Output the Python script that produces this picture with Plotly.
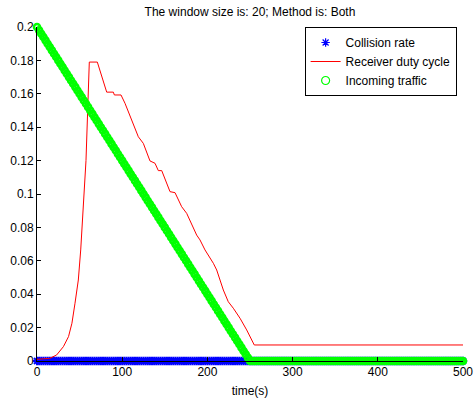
import plotly.graph_objects as go

# time grid (s)
time = [i * 2.5 for i in range(201)]

# Collision rate (zero throughout)
collision_rate = [0.0] * 201

# Incoming traffic
incoming_traffic = [
    0.200, 0.198, 0.196, 0.194, 0.192, 0.190, 0.188, 0.186, 0.184, 0.182,
    0.180, 0.178, 0.176, 0.174, 0.172, 0.170, 0.168, 0.166, 0.164, 0.162,
    0.160, 0.158, 0.156, 0.154, 0.152, 0.150, 0.148, 0.146, 0.144, 0.142,
    0.140, 0.138, 0.136, 0.134, 0.132, 0.130, 0.128, 0.126, 0.124, 0.122,
    0.120, 0.118, 0.116, 0.114, 0.112, 0.110, 0.108, 0.106, 0.104, 0.102,
    0.100, 0.098, 0.096, 0.094, 0.092, 0.090, 0.088, 0.086, 0.084, 0.082,
    0.080, 0.078, 0.076, 0.074, 0.072, 0.070, 0.068, 0.066, 0.064, 0.062,
    0.060, 0.058, 0.056, 0.054, 0.052, 0.050, 0.048, 0.046, 0.044, 0.042,
    0.040, 0.038, 0.036, 0.034, 0.032, 0.030, 0.028, 0.026, 0.024, 0.022,
    0.020, 0.018, 0.016, 0.014, 0.012, 0.010, 0.008, 0.006, 0.004, 0.002,
    0.000,
] + [0.0] * 100

# Receiver duty cycle
duty_time = [0, 10, 15, 23, 31, 37, 41, 44.6, 48.5, 51.3, 54.4, 56.3, 57.5,
             61.4, 70.8, 81.8, 89.6, 90.8, 98.6, 103.3, 109.2, 113, 118.9,
             124.8, 130.6, 132.6, 138.5, 142.4, 146.4, 156.1, 162, 169.8,
             175.7, 183.5, 187.4, 191.3, 197.2, 207, 210.9, 218.7, 224.5,
             230.4, 238.3, 246.1, 255, 500]
duty_cycle = [0.0010, 0.0012, 0.0016, 0.0036, 0.0086, 0.0146, 0.0226, 0.0346,
              0.0485, 0.0665, 0.0944, 0.1144, 0.1200, 0.1790, 0.1790, 0.1610,
              0.1610, 0.1593, 0.1593, 0.1543, 0.1463, 0.1413, 0.1343, 0.1303,
              0.1223, 0.1198, 0.1184, 0.1140, 0.1140, 0.1014, 0.1008, 0.0924,
              0.0884, 0.0804, 0.0754, 0.0725, 0.0665, 0.0585, 0.0545, 0.0425,
              0.0355, 0.0316, 0.0256, 0.0186, 0.0096, 0.0096]

FONT = "Liberation Sans, Arial, Helvetica, sans-serif"

fig = go.Figure()
fig.add_trace(go.Scatter(
    x=time, y=collision_rate, mode="markers", name="Collision rate",
    marker=dict(symbol="asterisk-open", size=7, color="#0000FF",
                line=dict(color="#0000FF", width=2)),
    cliponaxis=False, showlegend=False,
))
fig.add_trace(go.Scatter(
    x=duty_time, y=duty_cycle, mode="lines", name="Receiver duty cycle",
    line=dict(color="#FF0000", width=1),
    cliponaxis=False, showlegend=False,
))
fig.add_trace(go.Scatter(
    x=time, y=incoming_traffic, mode="markers", name="Incoming traffic",
    marker=dict(symbol="circle-open", size=6, color="#00FF00",
                line=dict(color="#00FF00", width=2.6)),
    cliponaxis=False, showlegend=False,
))

# legend entries (thin symbols as in the reference legend)
fig.add_trace(go.Scatter(
    x=[None], y=[None], mode="markers", name="Collision rate",
    marker=dict(symbol="asterisk-open", size=7, color="#0000FF",
                line=dict(color="#0000FF", width=1.2)),
))
fig.add_trace(go.Scatter(
    x=[None], y=[None], mode="lines", name="Receiver duty cycle",
    line=dict(color="#FF0000", width=1),
))
fig.add_trace(go.Scatter(
    x=[None], y=[None], mode="markers", name="Incoming traffic",
    marker=dict(symbol="circle-open", size=8, color="#00FF00",
                line=dict(color="#00FF00", width=1.2)),
))

fig.update_layout(
    width=474, height=398,
    margin=dict(l=37, r=11, t=27, b=37, autoexpand=False),
    paper_bgcolor="white", plot_bgcolor="white",
    font=dict(family=FONT, size=12, color="black"),
    title=dict(text="The window size is: 20; Method is: Both",
               x=0.5, xref="paper", xanchor="center",
               y=1 - 12 / 398, yref="container", yanchor="middle",
               font=dict(family=FONT, size=12, color="black")),
    showlegend=True,
    legend=dict(x=0.985, xanchor="right", y=1.0, yanchor="top",
                bordercolor="black", borderwidth=1, bgcolor="white",
                font=dict(family=FONT, size=12, color="black"),
                itemwidth=30, tracegroupgap=0),
    xaxis=dict(range=[0, 500], showgrid=False, zeroline=False, automargin=False,
               showline=True, linecolor="black", linewidth=1,
               ticks="inside", ticklen=4, tickcolor="black",
               tickvals=[0, 100, 200, 300, 400, 500],
               title=dict(text="time(s)", standoff=12,
                          font=dict(family=FONT, size=12, color="black"))),
    yaxis=dict(range=[0, 0.2], showgrid=False, zeroline=False, automargin=False,
               showline=True, linecolor="black", linewidth=1,
               ticks="inside", ticklen=4, tickcolor="black",
               tickvals=[0, 0.02, 0.04, 0.06, 0.08, 0.1, 0.12, 0.14, 0.16, 0.18, 0.2],
               ticktext=["0", "0.02", "0.04", "0.06", "0.08", "0.1", "0.12",
                         "0.14", "0.16", "0.18", "0.2"]),
)

fig.write_html("out.html")
